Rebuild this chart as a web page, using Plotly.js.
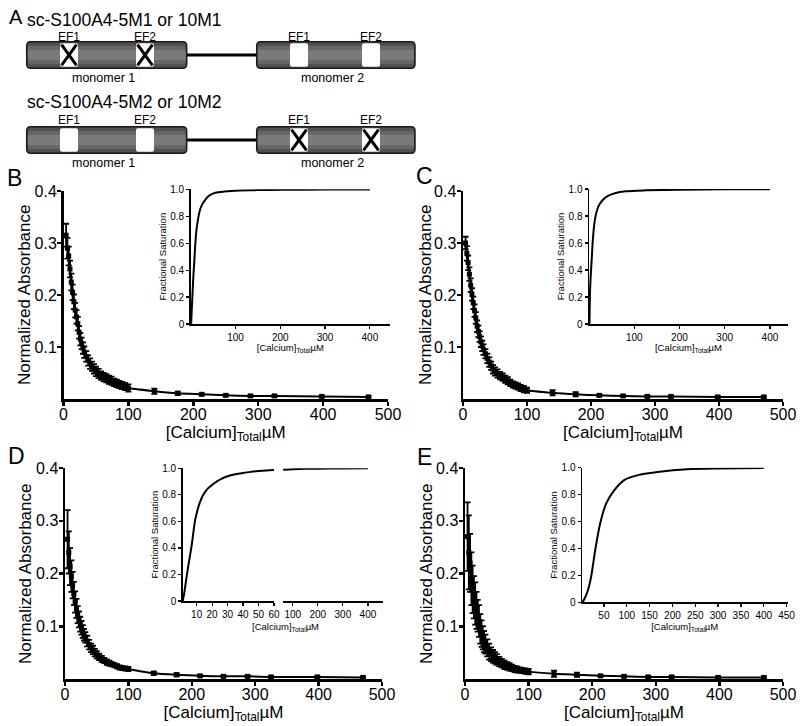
<!DOCTYPE html>
<html>
<head>
<meta charset="utf-8">
<script src="https://cdn.plot.ly/plotly-3.0.1.min.js"></script>
<style>
  body { margin: 0; background: #fff; }
  #chart { width: 800px; height: 726px; }
</style>
</head>
<body>
<div id="chart"></div>
<script>
// Calcium titration points (uM), shared by panels B-E
const calcium = [4, 6, 8, 10, 12, 14, 16, 18, 20, 22, 24, 26, 28, 30, 32, 35, 38, 41, 44, 47, 50,
  54, 58, 62, 66, 70, 74, 78, 82, 86, 90, 95, 100, 140, 176, 213, 250, 288, 325, 398, 470];

// Normalized absorbance (mean) and error
const absB = [0.315, 0.29, 0.275, 0.25, 0.225, 0.205, 0.187, 0.171, 0.158, 0.145, 0.128, 0.115, 0.107, 0.098, 0.090,
  0.082, 0.074, 0.068, 0.063, 0.058, 0.053, 0.049, 0.045, 0.042, 0.040, 0.037, 0.035, 0.032, 0.030, 0.028, 0.026,
  0.024, 0.021, 0.015, 0.011, 0.009, 0.007, 0.006, 0.006, 0.005, 0.004];
const errB = [0.022, 0.02, 0.018, 0.016, 0.016, 0.015, 0.014, 0.014, 0.013, 0.013, 0.012, 0.012, 0.011, 0.011, 0.011,
  0.010, 0.010, 0.010, 0.009, 0.009, 0.009, 0.009, 0.008, 0.008, 0.008, 0.008, 0.008, 0.007, 0.007, 0.007, 0.007,
  0.007, 0.007, 0.005, 0.003, 0.002, 0.002, 0.002, 0.002, 0.002, 0.002];

const absC = [0.30, 0.28, 0.262, 0.24, 0.219, 0.201, 0.185, 0.170, 0.156, 0.140, 0.130, 0.120, 0.110, 0.102, 0.095,
  0.087, 0.078, 0.071, 0.064, 0.057, 0.053, 0.049, 0.045, 0.042, 0.038, 0.035, 0.031, 0.028, 0.026, 0.024, 0.021,
  0.019, 0.017, 0.012, 0.009, 0.007, 0.006, 0.005, 0.005, 0.004, 0.004];
const errC = [0.012, 0.014, 0.014, 0.013, 0.013, 0.012, 0.012, 0.012, 0.011, 0.011, 0.011, 0.010, 0.010, 0.010, 0.010,
  0.009, 0.009, 0.009, 0.008, 0.008, 0.008, 0.008, 0.007, 0.007, 0.007, 0.007, 0.006, 0.006, 0.006, 0.006, 0.006,
  0.006, 0.005, 0.005, 0.004, 0.002, 0.002, 0.002, 0.002, 0.002, 0.002];

const absD = [0.265, 0.24, 0.213, 0.195, 0.178, 0.162, 0.146, 0.134, 0.122, 0.113, 0.104, 0.097, 0.090, 0.084, 0.079,
  0.072, 0.065, 0.059, 0.055, 0.050, 0.046, 0.042, 0.038, 0.035, 0.032, 0.030, 0.028, 0.026, 0.024, 0.022, 0.021,
  0.020, 0.019, 0.011, 0.008, 0.006, 0.005, 0.005, 0.004, 0.004, 0.003];
const errD = [0.055, 0.04, 0.035, 0.03, 0.025, 0.022, 0.02, 0.018, 0.016, 0.015, 0.014, 0.013, 0.012, 0.011, 0.010,
  0.010, 0.009, 0.008, 0.008, 0.007, 0.007, 0.006, 0.006, 0.005, 0.005, 0.005, 0.004, 0.004, 0.004, 0.004, 0.004,
  0.004, 0.004, 0.003, 0.003, 0.002, 0.002, 0.002, 0.002, 0.002, 0.002];

const absE = [0.27, 0.24, 0.22, 0.19, 0.17, 0.155, 0.143, 0.13, 0.12, 0.11, 0.095, 0.086, 0.078, 0.071, 0.066,
  0.059, 0.052, 0.047, 0.043, 0.040, 0.037, 0.033, 0.030, 0.027, 0.025, 0.023, 0.021, 0.019, 0.018, 0.017, 0.016,
  0.015, 0.014, 0.010, 0.008, 0.006, 0.005, 0.004, 0.004, 0.003, 0.003];
const errE = [0.065, 0.07, 0.055, 0.05, 0.045, 0.04, 0.04, 0.035, 0.03, 0.03, 0.028, 0.025, 0.022, 0.02, 0.018,
  0.016, 0.015, 0.013, 0.012, 0.011, 0.010, 0.009, 0.008, 0.008, 0.007, 0.007, 0.006, 0.006, 0.006, 0.005, 0.005,
  0.005, 0.005, 0.006, 0.004, 0.002, 0.002, 0.002, 0.002, 0.002, 0.002];

// Fractional saturation curves (insets)
const satBx = [1, 2, 4, 6, 8, 10, 13, 17, 21, 26, 32, 40, 51, 62, 74, 90, 111, 150, 200, 300, 400];
const satBy = [0, 0.08, 0.22, 0.36, 0.46, 0.58, 0.70, 0.79, 0.85, 0.89, 0.92, 0.95, 0.97, 0.978, 0.983, 0.988, 0.991, 0.994, 0.996, 0.998, 0.999];
const satCx = [1, 2.2, 4, 5.9, 8, 11, 14, 18.5, 24, 31, 40, 59, 81, 126, 200, 300, 400];
const satCy = [0, 0.23, 0.37, 0.475, 0.6, 0.72, 0.79, 0.85, 0.89, 0.92, 0.945, 0.97, 0.983, 0.99, 0.995, 0.998, 0.999];
const satD1x = [1, 2, 4, 6.8, 8.9, 10, 12, 14.3, 17, 20, 22.9, 26, 30, 35, 40, 45, 50, 55, 60];
const satD1y = [0, 0.06, 0.22, 0.42, 0.6, 0.66, 0.74, 0.8, 0.845, 0.875, 0.9, 0.92, 0.94, 0.955, 0.965, 0.973, 0.979, 0.984, 0.988];
const satD2x = [62, 100, 150, 200, 300, 400];
const satD2y = [0.989, 0.993, 0.996, 0.997, 0.999, 1.0];
const satEx = [3, 8, 15, 22, 31, 42, 55, 72, 95, 125, 172, 232, 300, 400];
const satEy = [0, 0.03, 0.09, 0.19, 0.39, 0.59, 0.735, 0.83, 0.91, 0.945, 0.97, 0.988, 0.994, 0.997];

const satTicks = [0, 0.2, 0.4, 0.6, 0.8, 1.0];
const satTickText = ['0', '0.2', '0.4', '0.6', '0.8', '1.0'];

const W = 800, H = 726;
const FONT = 'Arial, "Liberation Sans", sans-serif';
const caTitle = '[Calcium]<sub>Total</sub>µM';

function mainTrace(y, err, xa, ya) {
  return {
    x: calcium, y, xaxis: xa, yaxis: ya, type: 'scatter', mode: 'lines+markers',
    line: { color: '#000', width: 2, shape: 'spline', smoothing: 0.6 },
    marker: { symbol: 'square', size: 5, color: '#000' },
    error_y: { type: 'data', array: err, visible: true, color: '#000', thickness: 1.8, width: 3 },
    cliponaxis: false, showlegend: false, hoverinfo: 'x+y'
  };
}

function satTrace(x, y, xa, ya) {
  return {
    x, y, xaxis: xa, yaxis: ya, type: 'scatter', mode: 'lines',
    line: { color: '#000', width: 2, shape: 'spline', smoothing: 0.8 },
    cliponaxis: false, showlegend: false
  };
}

// axis helpers: pixel positions -> paper domain
function mainX(left, right, anchor) {
  return {
    domain: [left / W, right / W], range: [0, 500], anchor,
    tickvals: [0, 100, 200, 300, 400, 500],
    showline: true, linewidth: 2.5, linecolor: '#000',
    ticks: 'outside', ticklen: 4, tickwidth: 2.5, tickcolor: '#000', ticklabelstandoff: -5,
    showgrid: false, zeroline: false, tickfont: { size: 16 },
    title: { text: caTitle, font: { size: 17 }, standoff: 0 }
  };
}
function mainY(top, bottom, anchor) {
  return {
    domain: [1 - bottom / H, 1 - top / H], range: [0, 0.4], anchor,
    tickvals: [0.1, 0.2, 0.3, 0.4],
    showline: true, linewidth: 2.5, linecolor: '#000',
    ticks: 'outside', ticklen: 4, tickwidth: 2.5, tickcolor: '#000', ticklabelstandoff: -3,
    showgrid: false, zeroline: false, tickfont: { size: 16 }
  };
}
function insetX(left, right, range, ticks, anchor, withTitle) {
  const ax = {
    domain: [left / W, right / W], range, anchor, tickvals: ticks,
    showline: true, linewidth: 1.5, linecolor: '#000',
    ticks: 'outside', ticklen: 3, tickwidth: 1.2, tickcolor: '#000',
    showgrid: false, zeroline: false, tickfont: { size: 10 }
  };
  if (withTitle) ax.title = { text: caTitle, font: { size: 9.5 }, standoff: 0 };
  return ax;
}
function insetY(top, bottom, anchor) {
  return {
    domain: [1 - bottom / H, 1 - top / H], range: [0, 1], anchor,
    tickvals: satTicks, ticktext: satTickText,
    showline: true, linewidth: 1.5, linecolor: '#000',
    ticks: 'outside', ticklen: 3, tickwidth: 1.2, tickcolor: '#000',
    showgrid: false, zeroline: false, tickfont: { size: 10 },
    title: { text: 'Fractional Saturation', font: { size: 9.5 }, standoff: 2 }
  };
}

const data = [
  mainTrace(absB, errB, 'x', 'y'),
  mainTrace(absC, errC, 'x2', 'y2'),
  mainTrace(absD, errD, 'x3', 'y3'),
  mainTrace(absE, errE, 'x4', 'y4'),
  satTrace(satBx, satBy, 'x5', 'y5'),
  satTrace(satCx, satCy, 'x6', 'y6'),
  satTrace(satD1x, satD1y, 'x7', 'y7'),
  satTrace(satD2x, satD2y, 'x8', 'y7'),
  satTrace(satEx, satEy, 'x9', 'y9')
];

// ---- panel A schematic (paper coords from pixels) ----
const X = v => (v / W).toFixed(5);
const Y = v => (1 - v / H).toFixed(5);
function roundRect(x0, y0, x1, y1, r) {
  return `M${X(x0 + r)},${Y(y0)} L${X(x1 - r)},${Y(y0)} Q${X(x1)},${Y(y0)} ${X(x1)},${Y(y0 + r)} ` +
    `L${X(x1)},${Y(y1 - r)} Q${X(x1)},${Y(y1)} ${X(x1 - r)},${Y(y1)} L${X(x0 + r)},${Y(y1)} ` +
    `Q${X(x0)},${Y(y1)} ${X(x0)},${Y(y1 - r)} L${X(x0)},${Y(y0 + r)} Q${X(x0)},${Y(y0)} ${X(x0 + r)},${Y(y0)} Z`;
}
const pshape = (path, fill, lw) => ({
  type: 'path', xref: 'paper', yref: 'paper', path,
  fillcolor: fill, line: { color: '#1a1a1a', width: lw }
});
const pline = (x0, y0, x1, y1, w) => ({
  type: 'line', xref: 'paper', yref: 'paper', x0: x0 / W, y0: 1 - y0 / H, x1: x1 / W, y1: 1 - y1 / H,
  line: { color: '#000', width: w }
});

const monomers = [
  { x0: 26.7, x1: 186.7, ef: [[60, 78], [136, 154]], name: 'monomer 1' },
  { x0: 256.7, x1: 415, ef: [[290, 308], [362, 380]], name: 'monomer 2' }
];
const rows = [
  { label: 'sc-S100A4-5M1 or 10M1', labelY: 20, efY: 36.5, top: 41.7, knocked: 0 },
  { label: 'sc-S100A4-5M2 or 10M2', labelY: 102.5, efY: 119.5, top: 126.7, knocked: 1 }
];
const BAR_H = 26.6;

const shapes = [];
const annotations = [];
const txt = (x, y, text, size, anchor, angle) => annotations.push({
  xref: 'paper', yref: 'paper', x: x / W, y: 1 - y / H, text, showarrow: false, textangle: angle || 0,
  xanchor: anchor || 'center', yanchor: 'middle', font: { size, color: '#000', family: FONT }
});

rows.forEach(row => {
  const t = row.top, b = row.top + BAR_H;
  shapes.push(pline(monomers[0].x1, t + BAR_H / 2, monomers[1].x0, t + BAR_H / 2, 3));
  monomers.forEach((m, mi) => {
    shapes.push(pshape(roundRect(m.x0, t, m.x1, b, 4), '#4f4f4f', 0));
    shapes.push(pshape(roundRect(m.x0 + 1, t + 4, m.x1 - 1, b - 4, 3), '#666666', 0));
    shapes.push(pshape(roundRect(m.x0 + 1, t + 8, m.x1 - 1, b - 8, 2), '#7a7a7a', 0));
    m.ef.forEach(([e0, e1], k) => {
      shapes.push(pshape(roundRect(e0, t + 1.5, e1, b - 1.5, 2), '#ffffff', 0));
      if (row.knocked === mi) {
        shapes.push(pline(e0 + 1.5, t + 3, e1 - 1.5, b - 3, 3));
        shapes.push(pline(e0 + 1.5, b - 3, e1 - 1.5, t + 3, 3));
      }
      txt((e0 + e1) / 2, row.efY, 'EF' + (k + 1), 12);
    });
    shapes.push(pshape(roundRect(m.x0, t, m.x1, b, 4), 'rgba(0,0,0,0)', 1.5));
    txt((m.x0 + m.x1) / 2 - 3, b + 10, m.name, 12.5);
  });
  txt(25, row.labelY, row.label, 17.5, 'left');
});

txt(7, 17, 'A', 20, 'left');
txt(5, 178, 'B', 23, 'left');
txt(414, 176, 'C', 23, 'left');
txt(6, 456, 'D', 23, 'left');
txt(415, 457, 'E', 23, 'left');

// y titles of the main plots
txt(25, 295, 'Normalized Absorbance', 17, 'center', -90);
txt(426, 295, 'Normalized Absorbance', 17, 'center', -90);
txt(25, 574, 'Normalized Absorbance', 17, 'center', -90);
txt(426, 574, 'Normalized Absorbance', 17, 'center', -90);
// shared title under the broken inset axis of D
txt(285, 627, caTitle, 9.5);

const layout = {
  width: W, height: H,
  margin: { l: 0, r: 0, t: 0, b: 0 },
  paper_bgcolor: '#fff', plot_bgcolor: 'rgba(0,0,0,0)',
  font: { family: FONT, color: '#000' },
  showlegend: false,
  xaxis: mainX(63.5, 388, 'y'),
  yaxis: mainY(191, 399, 'x'),
  xaxis2: mainX(463, 783, 'y2'),
  yaxis2: mainY(191, 399, 'x2'),
  xaxis3: mainX(65, 382, 'y3'),
  yaxis3: mainY(468, 679, 'x3'),
  xaxis4: mainX(465, 783, 'y4'),
  yaxis4: mainY(468, 679, 'x4'),
  xaxis5: insetX(190.7, 390, [0, 445], [100, 200, 300, 400], 'y5', true),
  yaxis5: insetY(189.3, 324, 'x5'),
  xaxis6: insetX(589, 788, [0, 440], [100, 200, 300, 400], 'y6', true),
  yaxis6: insetY(189, 324, 'x6'),
  xaxis7: insetX(182.7, 274, [1, 60], [10, 20, 30, 40, 50, 60], 'y7', false),
  yaxis7: insetY(468.3, 601, 'x7'),
  xaxis8: insetX(282.7, 383, [60, 460], [100, 200, 300, 400], 'y7', false),
  xaxis9: insetX(582, 787.5, [2, 452], [50, 100, 150, 200, 250, 300, 350, 400, 450], 'y9', true),
  yaxis9: insetY(467.7, 602.3, 'x9'),
  shapes, annotations
};

Plotly.newPlot('chart', data, layout, { displayModeBar: false, staticPlot: true });
</script>
</body>
</html>
